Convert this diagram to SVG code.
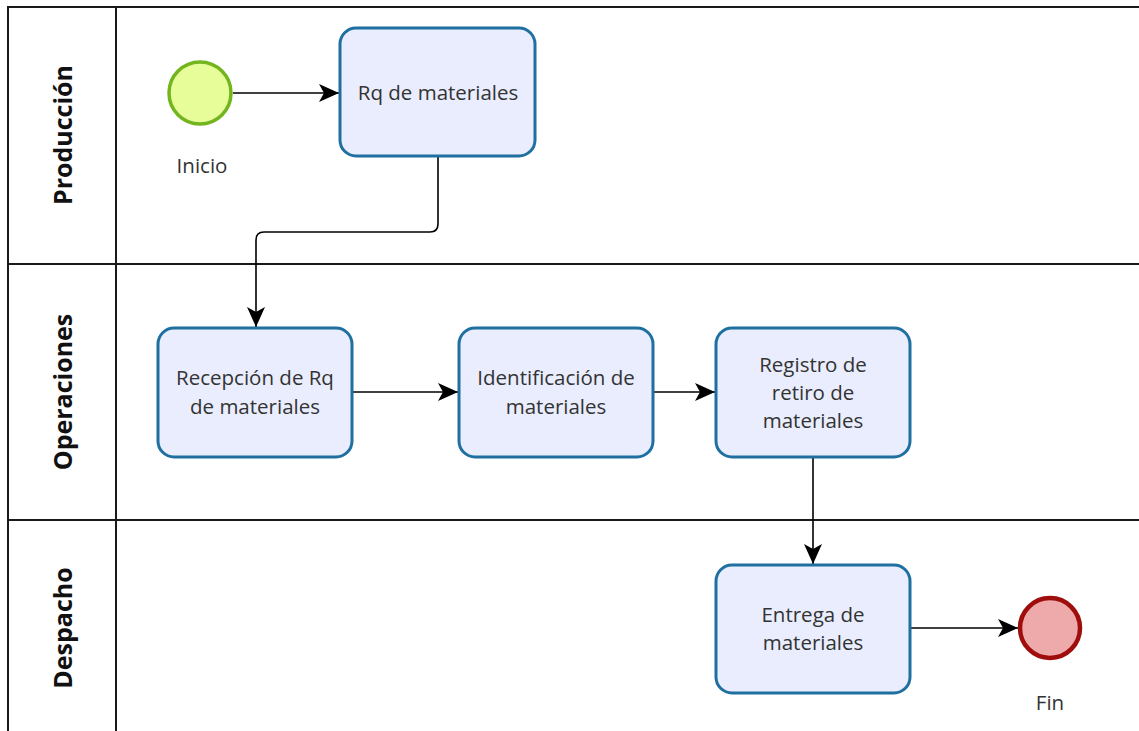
<svg xmlns="http://www.w3.org/2000/svg" width="1139" height="731" viewBox="0 0 1139 731">
<defs>
<style>
.lane{fill:none;stroke:#1a1a1a;stroke-width:2}
.task{fill:#e9edfd;stroke:#1f70a0;stroke-width:3}
.t{font-family:"Open Sans","Noto Sans",sans-serif;font-size:20.5px;fill:#333;text-anchor:middle}
.h{font-family:"Open Sans","Noto Sans",sans-serif;font-size:25px;font-weight:bold;fill:#111;text-anchor:middle}
.c{fill:none;stroke:#000;stroke-width:1.6}
</style>
<marker id="ah" viewBox="0 0 22 22" refX="21" refY="11" markerWidth="22" markerHeight="22" markerUnits="userSpaceOnUse" orient="auto">
<path d="M1,2 L21,11 L1,20 L6,11 Z" fill="#000"/>
</marker>
</defs>
<rect width="1139" height="731" fill="#fff"/>
<g id="lanes">
<path class="lane" d="M1145,7 H8 V740 M116,7 V740 M8,264 H1145 M8,520 H1145"/>
<text class="h" transform="translate(72,135) rotate(-90)">Producción</text>
<text class="h" transform="translate(72,392) rotate(-90)">Operaciones</text>
<text class="h" transform="translate(72,628) rotate(-90)">Despacho</text>
</g>
<g id="connectors">
<path class="c" d="M233,93 H339" marker-end="url(#ah)"/>
<path class="c" d="M438,157 V224 Q438,232 430,232 H264 Q256,232 256,240 V327" marker-end="url(#ah)"/>
<path class="c" d="M352,392 H458" marker-end="url(#ah)"/>
<path class="c" d="M653,392 H715" marker-end="url(#ah)"/>
<path class="c" d="M813,457 V564" marker-end="url(#ah)"/>
<path class="c" d="M910,628 H1018" marker-end="url(#ah)"/>
</g>
<g id="inicio">
<circle cx="200" cy="93" r="31" fill="#e6fd9a" stroke="#72b51e" stroke-width="3.5"/>
<text class="t" x="202" y="173">Inicio</text>
</g>
<g id="rq">
<rect class="task" x="340" y="28" width="195" height="128" rx="16"/>
<text class="t" x="438" y="100">Rq de materiales</text>
</g>
<g id="recepcion">
<rect class="task" x="158" y="328" width="194" height="129" rx="16"/>
<text class="t" x="255" y="385">Recepción de Rq</text>
<text class="t" x="255" y="414">de materiales</text>
</g>
<g id="identificacion">
<rect class="task" x="459" y="328" width="194" height="129" rx="16"/>
<text class="t" x="556" y="385">Identificación de</text>
<text class="t" x="556" y="414">materiales</text>
</g>
<g id="registro">
<rect class="task" x="716" y="328" width="194" height="129" rx="16"/>
<text class="t" x="813" y="372">Registro de</text>
<text class="t" x="813" y="400">retiro de</text>
<text class="t" x="813" y="428">materiales</text>
</g>
<g id="entrega">
<rect class="task" x="716" y="565" width="194" height="128" rx="16"/>
<text class="t" x="813" y="622">Entrega de</text>
<text class="t" x="813" y="650">materiales</text>
</g>
<g id="fin">
<circle cx="1050" cy="628" r="30" fill="#eeaaaa" stroke="#a00d0d" stroke-width="4.5"/>
<text class="t" x="1050" y="710">Fin</text>
</g>
</svg>
